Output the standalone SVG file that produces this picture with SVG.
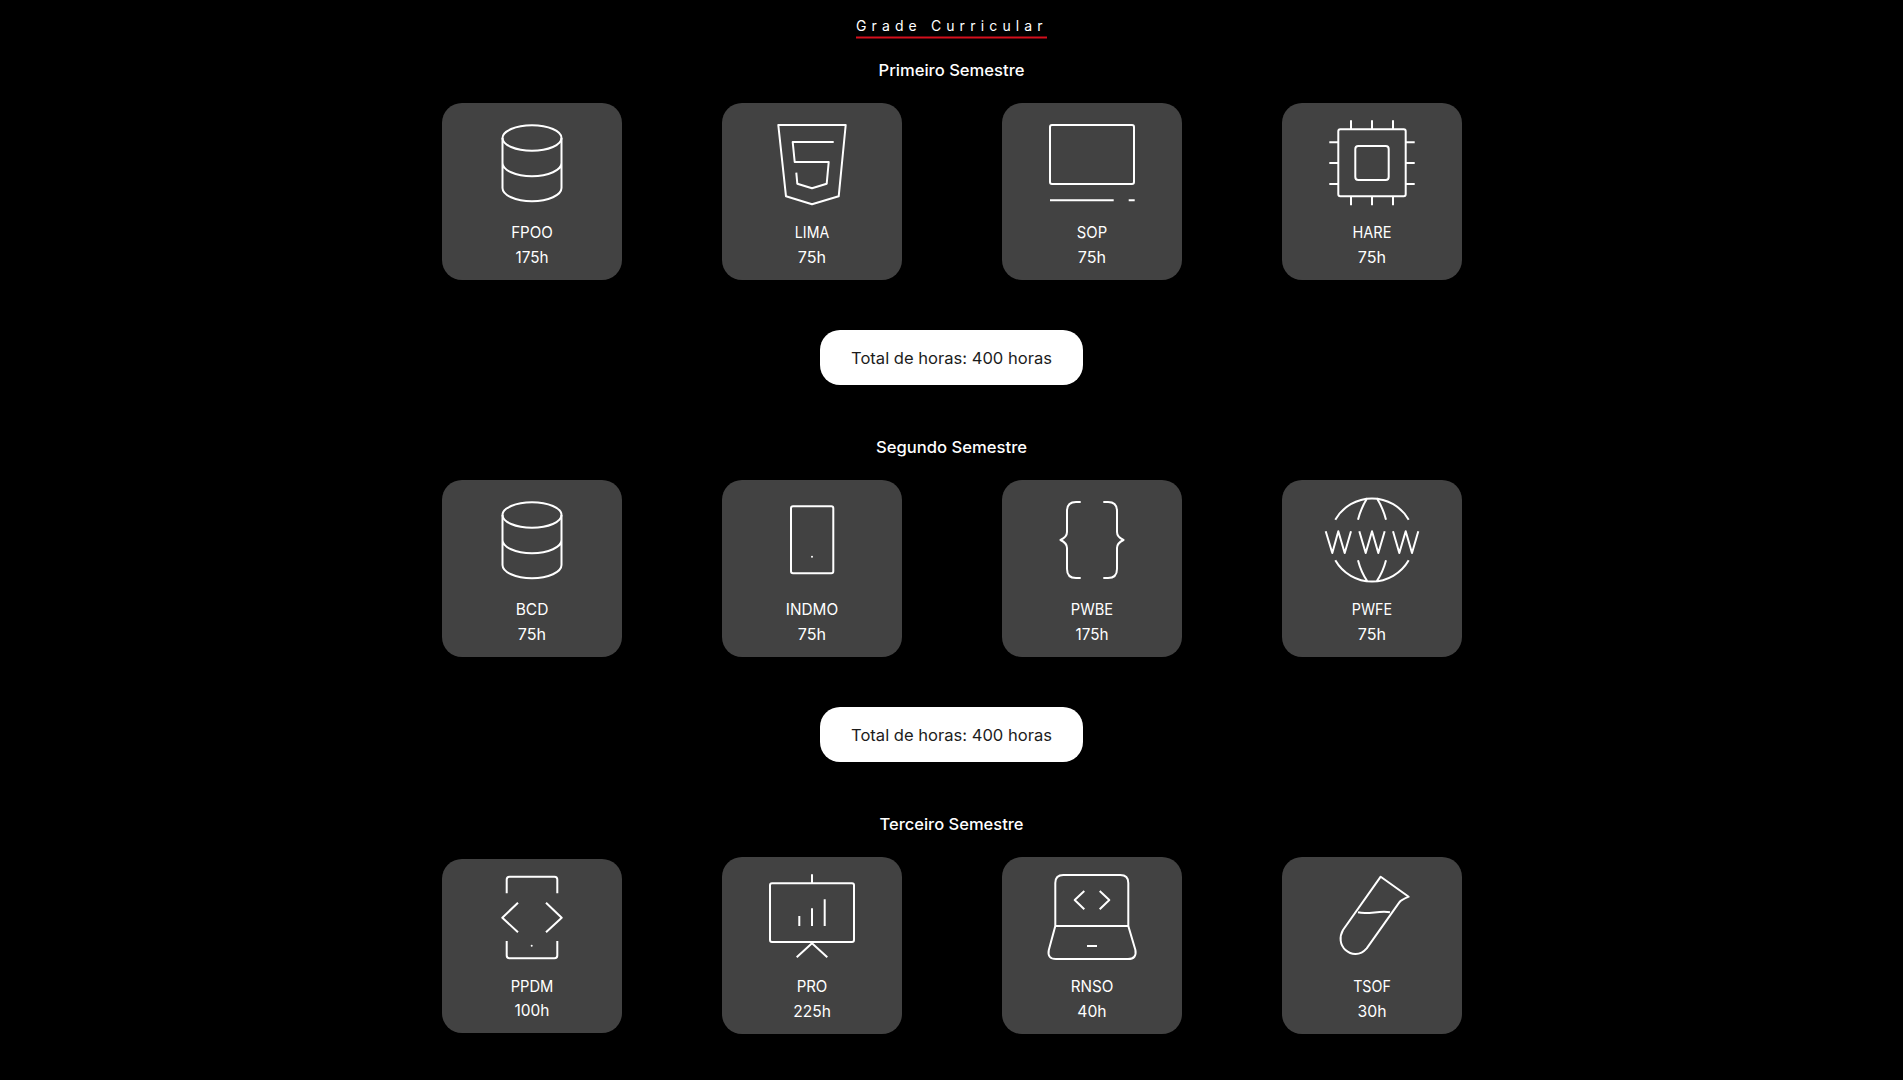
<svg xmlns="http://www.w3.org/2000/svg" xmlns:xlink="http://www.w3.org/1999/xlink" width="1903" height="1080" viewBox="0 0 1903 1080">
<style>
text{font-family:"Inter","Open Sans","Liberation Sans",sans-serif;fill:#fff;font-size:16px;text-anchor:middle}
.h{font-weight:450;font-size:16px}
.t{font-weight:400;font-size:14px;text-anchor:start}
.p{fill:#1c1c1c;font-size:16px}
.card{fill:#424242}
.pill{fill:#fff}
.i{fill:none;stroke:#fff;stroke-width:2;stroke-linecap:butt;stroke-linejoin:round}
.d{fill:#fff}
</style>
<defs>
<g id="db" class="i"><ellipse cx="90" cy="35" rx="29.500" ry="12.700"/><path d="M60.500 35V85C60.500 92 73.500 98.300 90 98.300S119.500 92 119.500 85V35M60.500 60C60.500 67 73.500 73.300 90 73.300S119.500 67 119.500 60"/></g>
</defs>
<rect width="1903" height="1080" fill="#000"/>
<g id="title"><text class="t" x="856" y="31" textLength="186.500" lengthAdjust="spacing">Grade Curricular</text><rect x="856" y="36.500" width="191" height="2" fill="#d40f1c"/></g>
<g id="h1"><text class="h" x="951.500" y="76" textLength="146" lengthAdjust="spacingAndGlyphs">Primeiro Semestre</text></g>
<g id="h2"><text class="h" x="951.500" y="453" textLength="151" lengthAdjust="spacingAndGlyphs">Segundo Semestre</text></g>
<g id="h3"><text class="h" x="951.500" y="830" textLength="144" lengthAdjust="spacingAndGlyphs">Terceiro Semestre</text></g>

<g id="connectors"/>

<g id="FPOO" transform="translate(442 103)"><rect class="card" width="180" height="177" rx="20"/><use href="#db"/><text x="90" y="135" textLength="41.700" lengthAdjust="spacingAndGlyphs">FPOO</text><text x="90" y="159.500" textLength="33" lengthAdjust="spacingAndGlyphs">175h</text></g>
<g id="LIMA" transform="translate(722 103)"><rect class="card" width="180" height="177" rx="20"/><path class="i" d="M56.300 22H123.700L116.700 93.300L90 101.300L64 93.300ZM111.700 39H70.700L72.700 59H106.700L104.700 80.700L90 85.300L75.300 80.700L74.300 69.700"/><text x="90" y="135" textLength="34.300" lengthAdjust="spacingAndGlyphs">LIMA</text><text x="90" y="159.500" textLength="28.300" lengthAdjust="spacingAndGlyphs">75h</text></g>
<g id="SOP" transform="translate(1002 103)"><rect class="card" width="180" height="177" rx="20"/><rect class="i" x="48" y="22" width="84" height="59" rx="2"/><path class="i" d="M48 97.300H111.700M126.700 97.300H132.700"/><text x="90" y="135" textLength="30.300" lengthAdjust="spacingAndGlyphs">SOP</text><text x="90" y="159.500" textLength="28.300" lengthAdjust="spacingAndGlyphs">75h</text></g>
<g id="HARE" transform="translate(1282 103)"><rect class="card" width="180" height="177" rx="20"/><rect class="i" x="56.300" y="26.300" width="67.400" height="67" rx="2"/><rect class="i" x="73.300" y="43" width="33.400" height="34" rx="3"/><path class="i" d="M69 17.300V26.300M90 17.300V26.300M111 17.300V26.300M69 93.300V102.300M90 93.300V102.300M111 93.300V102.300M47.300 39.300H56.300M47.300 60H56.300M47.300 81H56.300M123.700 39.300H132.700M123.700 60H132.700M123.700 81H132.700"/><text x="90" y="135" textLength="39" lengthAdjust="spacingAndGlyphs">HARE</text><text x="90" y="159.500" textLength="28.300" lengthAdjust="spacingAndGlyphs">75h</text></g>

<g id="total1"><rect class="pill" x="820" y="330" width="263" height="55" rx="20"/><text class="p" x="951.500" y="363.500" textLength="201" lengthAdjust="spacingAndGlyphs">Total de horas: 400 horas</text></g>

<g id="BCD" transform="translate(442 480)"><rect class="card" width="180" height="177" rx="20"/><use href="#db"/><text x="90" y="135" textLength="32.700" lengthAdjust="spacingAndGlyphs">BCD</text><text x="90" y="159.500" textLength="28.300" lengthAdjust="spacingAndGlyphs">75h</text></g>
<g id="INDMO" transform="translate(722 480)"><rect class="card" width="180" height="177" rx="20"/><rect class="i" x="69" y="26.300" width="42.300" height="67" rx="2"/><circle class="d" cx="90" cy="76.700" r="1"/><text x="90" y="135" textLength="52.300" lengthAdjust="spacingAndGlyphs">INDMO</text><text x="90" y="159.500" textLength="28.300" lengthAdjust="spacingAndGlyphs">75h</text></g>
<g id="PWBE" transform="translate(1002 480)"><rect class="card" width="180" height="177" rx="20"/><path class="i" d="M78.700 22H74Q65 22 65 31V52Q65 57 58.500 60Q65 63 65 68V89Q65 98 74 98H78.700M101.300 22H106Q115 22 115 31V52Q115 57 121.500 60Q115 63 115 68V89Q115 98 106 98H101.300"/><text x="90" y="135" textLength="42.300" lengthAdjust="spacingAndGlyphs">PWBE</text><text x="90" y="159.500" textLength="33" lengthAdjust="spacingAndGlyphs">175h</text></g>
<g id="PWFE" transform="translate(1282 480)"><rect class="card" width="180" height="177" rx="20"/><path class="i" d="M53.300 39.700A42.300 42.300 0 0 1 126.700 39.700M53.300 80.300A42.300 42.300 0 0 0 126.700 80.300M85.300 18Q79 28 76 39.700M94.700 18Q101 28 104 39.700M76 80.300Q79 92 85.300 101.300M104 80.300Q101 92 94.700 101.300M43.700 51.300L50.300 73L56.300 51.300L62.700 73L69 51.300M77.300 51.300L83.700 73L90 51.300L96.300 73L102.700 51.300M111 51.300L117.300 73L123.700 51.300L130 73L136.300 51.300"/><text x="90" y="135" textLength="40.300" lengthAdjust="spacingAndGlyphs">PWFE</text><text x="90" y="159.500" textLength="28.300" lengthAdjust="spacingAndGlyphs">75h</text></g>

<g id="total2"><rect class="pill" x="820" y="707" width="263" height="55" rx="20"/><text class="p" x="951.500" y="740.500" textLength="201" lengthAdjust="spacingAndGlyphs">Total de horas: 400 horas</text></g>

<g id="PPDM" transform="translate(442 859)"><rect class="card" width="180" height="174" rx="20"/><path class="i" d="M64.700 34.300V20.500Q64.700 17.700 67.500 17.700H112.500Q115.300 17.700 115.300 20.500V34.300M64.700 82V96.500Q64.700 99.300 67.500 99.300H112.500Q115.300 99.300 115.300 96.500V82M76 43.700L60.300 58.700L76 73.300M104 43.700L119.700 58.700L104 73.300"/><circle class="d" cx="89.700" cy="86.700" r="1"/><text x="90" y="132.700" textLength="42.700" lengthAdjust="spacingAndGlyphs">PPDM</text><text x="90" y="156.700" textLength="35" lengthAdjust="spacingAndGlyphs">100h</text></g>
<g id="PRO" transform="translate(722 857)"><rect class="card" width="180" height="177" rx="20"/><rect class="i" x="48" y="26.300" width="84" height="58.700" rx="2"/><path class="i" d="M90 17.300V26.300M74.700 100.300L90 86.300L105.300 100.300M77.300 59V69M90 51.300V69M102.700 42.300V69"/><text x="90" y="135.300" textLength="30.700" lengthAdjust="spacingAndGlyphs">PRO</text><text x="90" y="159.700" textLength="37.700" lengthAdjust="spacingAndGlyphs">225h</text></g>
<g id="RNSO" transform="translate(1002 857)"><rect class="card" width="180" height="177" rx="20"/><path class="i" d="M53.300 69V26Q53.300 18 61.300 18H118.300Q126.300 18 126.300 26V69ZM53.300 69L46.800 93Q45 102 54 102H126Q135 102 133.400 93L126.300 69M82.300 34L72.700 43L82.300 52.300M97.700 34L107.300 43L97.700 52.300M85 89H95"/><text x="90" y="135.300" textLength="42.700" lengthAdjust="spacingAndGlyphs">RNSO</text><text x="90" y="159.700" textLength="29.300" lengthAdjust="spacingAndGlyphs">40h</text></g>
<g id="TSOF" transform="translate(1282 857)"><rect class="card" width="180" height="177" rx="20"/><path class="i" d="M98.700 19.700L126.700 39.700Q119 43 117.300 45.300L84.700 91.300C78 99 69 98 63.500 93C58 88 57 80 61 73ZM76 55.300C86 58 98 53 108 55.300"/><text x="90" y="135.300" textLength="37.700" lengthAdjust="spacingAndGlyphs">TSOF</text><text x="90" y="159.700" textLength="29" lengthAdjust="spacingAndGlyphs">30h</text></g>
</svg>
